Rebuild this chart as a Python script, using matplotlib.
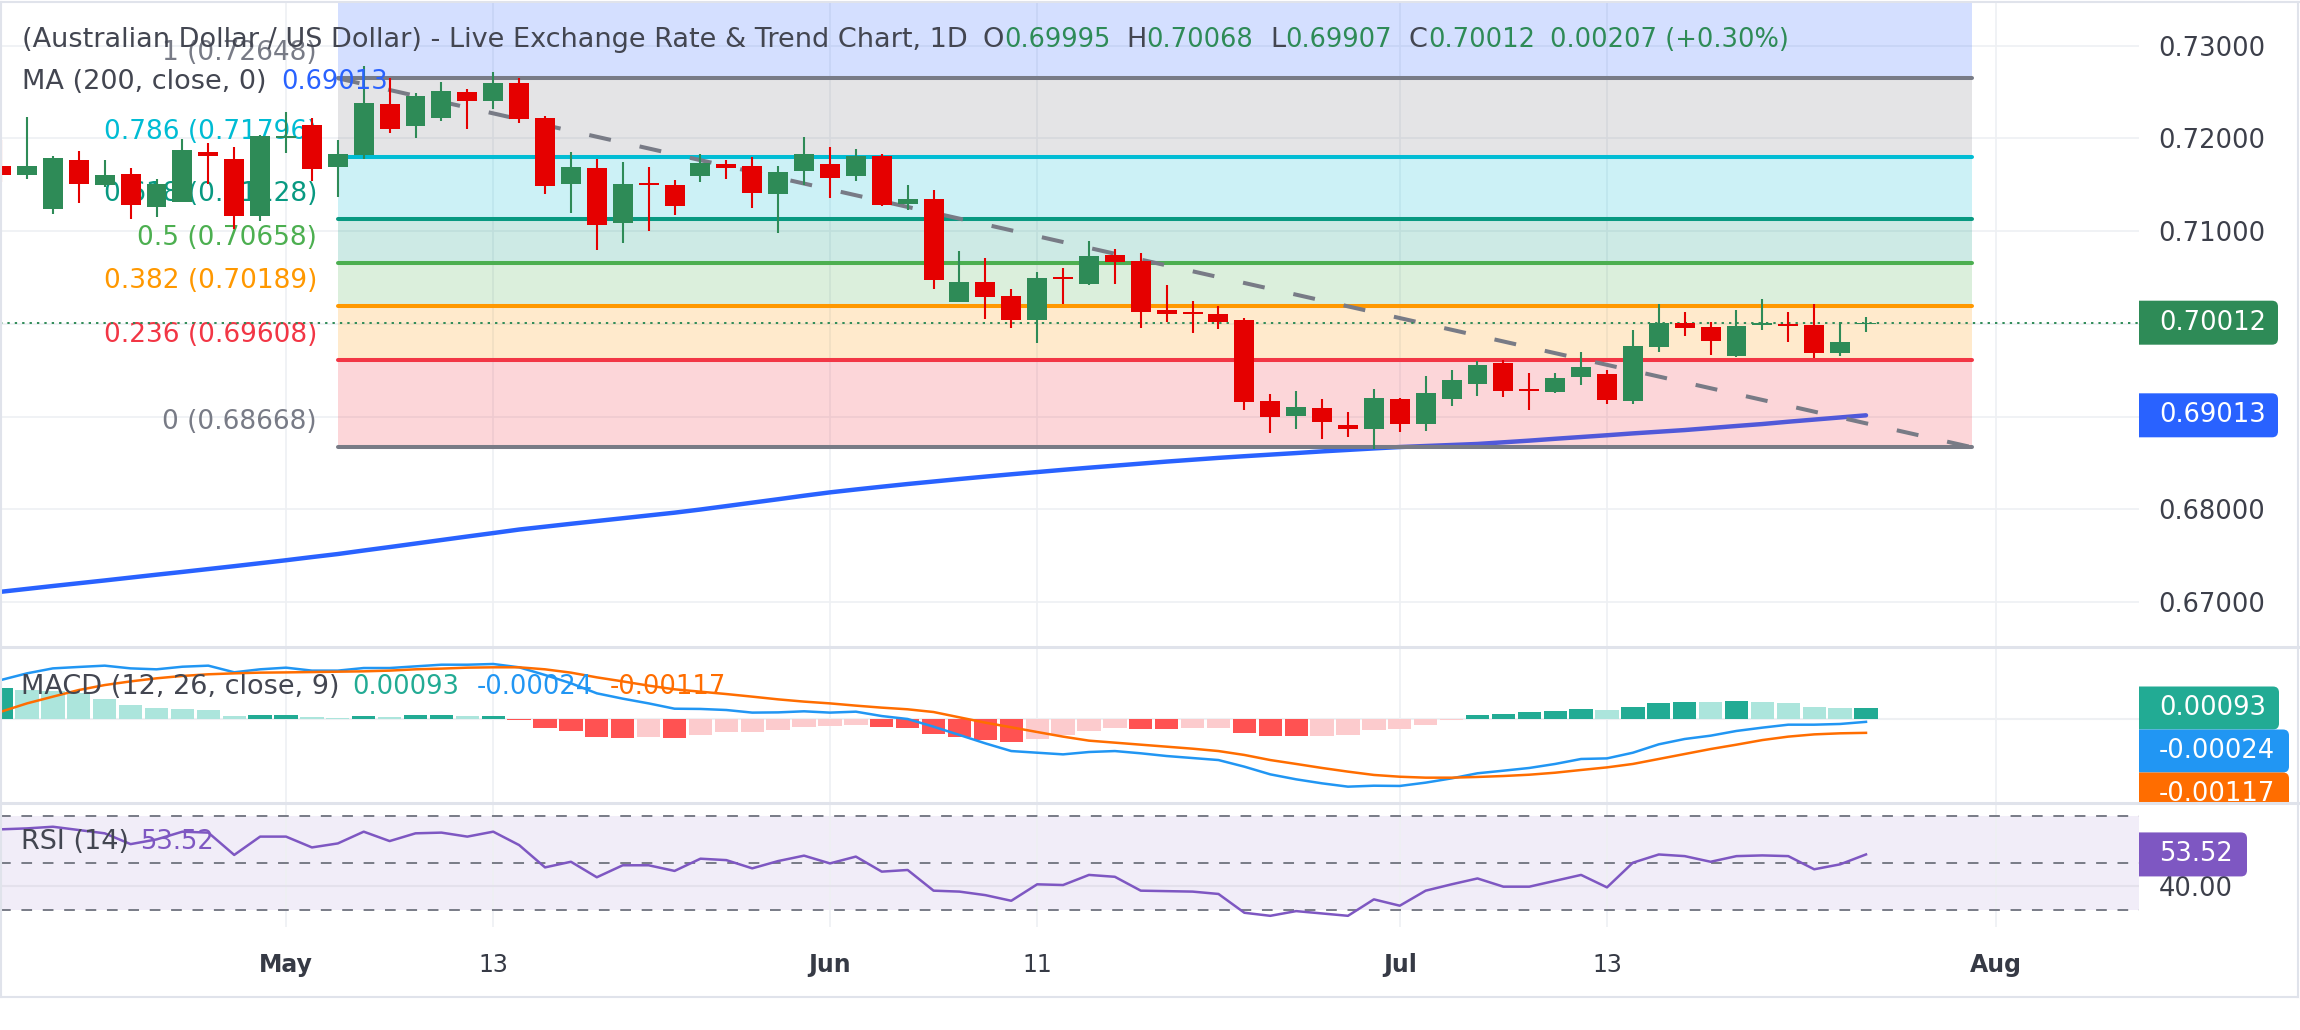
import matplotlib
matplotlib.use('Agg')
import matplotlib.pyplot as plt
import matplotlib.patches as patches
from matplotlib.lines import Line2D
from matplotlib.transforms import IdentityTransform, Bbox, blended_transform_factory

plt.rcParams['font.family'] = ['DejaVu Sans']

# ---- data (daily bars, Apr 16 .. Jul 27) ----
opens = [0.71702, 0.71609, 0.71242, 0.71767, 0.71501, 0.71616, 0.71264, 0.71318, 0.71850, 0.71778,
         0.71167, 0.72001, 0.72145, 0.71695, 0.71821, 0.72371, 0.72134, 0.72224, 0.72501, 0.72407,
         0.72601, 0.72220, 0.71508, 0.71681, 0.71091, 0.71519, 0.71498, 0.71598, 0.71724, 0.71702,
         0.71400, 0.71649, 0.71724, 0.71595, 0.71810, 0.71296, 0.71347, 0.70236, 0.70451, 0.70300,
         0.70041, 0.70505, 0.70430, 0.70742, 0.70678, 0.70149, 0.70128, 0.70106, 0.70041, 0.69168,
         0.69006, 0.69092, 0.68909, 0.68866, 0.69189, 0.68920, 0.69189, 0.69351, 0.69578, 0.69297,
         0.69265, 0.69427, 0.69459, 0.69168, 0.69750, 0.70009, 0.69966, 0.69653, 0.69991, 0.69998,
         0.69987, 0.69685, 0.69995]
highs = [0.71983, 0.72227, 0.71810, 0.71864, 0.71767, 0.71681, 0.71559, 0.71997, 0.71947, 0.71904,
         0.72033, 0.72285, 0.72217, 0.71983, 0.72781, 0.72648, 0.72493, 0.72608, 0.72529, 0.72720,
         0.72655, 0.72242, 0.71853, 0.71778, 0.71746, 0.71692, 0.71551, 0.71832, 0.71767, 0.71800,
         0.71702, 0.72015, 0.71907, 0.71886, 0.71832, 0.71498, 0.71444, 0.70786, 0.70710, 0.70376,
         0.70559, 0.70602, 0.70893, 0.70807, 0.70764, 0.70419, 0.70246, 0.70192, 0.70063, 0.69243,
         0.69276, 0.69189, 0.69049, 0.69297, 0.69200, 0.69437, 0.69502, 0.69599, 0.69610, 0.69470,
         0.69470, 0.69696, 0.69502, 0.69934, 0.70214, 0.70128, 0.70020, 0.70149, 0.70268, 0.70128,
         0.70214, 0.70020, 0.70068]
lows = [0.71533, 0.71559, 0.71181, 0.71307, 0.71480, 0.71127, 0.71156, 0.71311, 0.71508, 0.71027,
        0.71113, 0.71846, 0.71544, 0.71372, 0.71782, 0.72062, 0.72008, 0.72191, 0.72101, 0.72317,
        0.72166, 0.71400, 0.71195, 0.70796, 0.70872, 0.71001, 0.71174, 0.71530, 0.71562, 0.71249,
        0.70980, 0.71498, 0.71357, 0.71541, 0.71271, 0.71228, 0.70376, 0.70236, 0.70052, 0.69955,
        0.69793, 0.70214, 0.70419, 0.70430, 0.69955, 0.70020, 0.69901, 0.69944, 0.69071, 0.68823,
        0.68866, 0.68758, 0.68779, 0.68650, 0.68833, 0.68844, 0.69114, 0.69222, 0.69211, 0.69071,
        0.69254, 0.69340, 0.69135, 0.69135, 0.69696, 0.69869, 0.69664, 0.69642, 0.69934, 0.69804,
        0.69631, 0.69653, 0.69907]
closes = [0.71609, 0.71702, 0.71785, 0.71512, 0.71605, 0.71285, 0.71508, 0.71875, 0.71814, 0.71167,
          0.72026, 0.72022, 0.71674, 0.71832, 0.72382, 0.72098, 0.72457, 0.72511, 0.72407, 0.72598,
          0.72209, 0.71490, 0.71692, 0.71070, 0.71508, 0.71501, 0.71275, 0.71735, 0.71681, 0.71411,
          0.71638, 0.71832, 0.71577, 0.71810, 0.71285, 0.71347, 0.70476, 0.70451, 0.70289, 0.70041,
          0.70494, 0.70487, 0.70732, 0.70671, 0.70128, 0.70106, 0.70110, 0.70020, 0.69157, 0.68995,
          0.69103, 0.68941, 0.68866, 0.69200, 0.68920, 0.69254, 0.69394, 0.69556, 0.69276, 0.69276,
          0.69416, 0.69534, 0.69178, 0.69761, 0.70009, 0.69959, 0.69815, 0.69977, 0.70013, 0.69980,
          0.69685, 0.69805, 0.70012]
ma200 = [0.67110, 0.67141, 0.67172, 0.67202, 0.67232, 0.67263, 0.67294, 0.67324, 0.67355, 0.67386,
         0.67418, 0.67450, 0.67484, 0.67517, 0.67555, 0.67592, 0.67630, 0.67668, 0.67706, 0.67743,
         0.67781, 0.67812, 0.67843, 0.67873, 0.67903, 0.67933, 0.67963, 0.67997, 0.68034, 0.68071,
         0.68108, 0.68146, 0.68182, 0.68213, 0.68243, 0.68272, 0.68299, 0.68326, 0.68352, 0.68377,
         0.68401, 0.68425, 0.68448, 0.68470, 0.68492, 0.68514, 0.68534, 0.68554, 0.68572, 0.68589,
         0.68606, 0.68624, 0.68640, 0.68656, 0.68671, 0.68682, 0.68693, 0.68704, 0.68722, 0.68740,
         0.68760, 0.68779, 0.68798, 0.68818, 0.68836, 0.68854, 0.68876, 0.68898, 0.68919, 0.68944,
         0.68967, 0.68990, 0.69013]
macd_line = [0.00330, 0.00386, 0.00428, 0.00440, 0.00451, 0.00428, 0.00420, 0.00442, 0.00451, 0.00395,
             0.00420, 0.00434, 0.00409, 0.00409, 0.00431, 0.00431, 0.00445, 0.00459, 0.00459, 0.00465,
             0.00437, 0.00372, 0.00302, 0.00217, 0.00172, 0.00132, 0.00087, 0.00085, 0.00076, 0.00054,
             0.00056, 0.00065, 0.00054, 0.00062, 0.00025, 0.00000, -0.00065, -0.00135, -0.00206, -0.00271,
             -0.00285, -0.00299, -0.00279, -0.00271, -0.00290, -0.00313, -0.00330, -0.00347, -0.00403, -0.00468,
             -0.00510, -0.00544, -0.00572, -0.00564, -0.00566, -0.00538, -0.00502, -0.00459, -0.00437, -0.00414,
             -0.00380, -0.00338, -0.00333, -0.00285, -0.00214, -0.00169, -0.00141, -0.00101, -0.00073, -0.00048,
             -0.00048, -0.00042, -0.00024]
signal_line = [0.00062, 0.00132, 0.00189, 0.00245, 0.00287, 0.00318, 0.00344, 0.00364, 0.00378, 0.00386,
               0.00392, 0.00394, 0.00397, 0.00400, 0.00403, 0.00409, 0.00420, 0.00426, 0.00434, 0.00437,
               0.00437, 0.00420, 0.00392, 0.00352, 0.00318, 0.00282, 0.00251, 0.00231, 0.00211, 0.00189,
               0.00166, 0.00147, 0.00132, 0.00113, 0.00096, 0.00082, 0.00059, 0.00014, -0.00031, -0.00070,
               -0.00110, -0.00149, -0.00183, -0.00200, -0.00217, -0.00234, -0.00251, -0.00271, -0.00304, -0.00347,
               -0.00380, -0.00414, -0.00445, -0.00473, -0.00488, -0.00496, -0.00496, -0.00490, -0.00482, -0.00471,
               -0.00454, -0.00431, -0.00409, -0.00380, -0.00338, -0.00296, -0.00254, -0.00217, -0.00178, -0.00149,
               -0.00130, -0.00121, -0.00117]
macd_hist = [0.00259, 0.00245, 0.00240, 0.00217, 0.00166, 0.00118, 0.00090, 0.00087, 0.00076, 0.00025,
             0.00031, 0.00034, 0.00014, 0.00008, 0.00025, 0.00017, 0.00031, 0.00033, 0.00025, 0.00028,
             -0.00008, -0.00073, -0.00099, -0.00149, -0.00158, -0.00149, -0.00158, -0.00135, -0.00110, -0.00108,
             -0.00093, -0.00065, -0.00063, -0.00051, -0.00070, -0.00076, -0.00127, -0.00149, -0.00175, -0.00192,
             -0.00169, -0.00135, -0.00099, -0.00073, -0.00082, -0.00083, -0.00080, -0.00073, -0.00116, -0.00141,
             -0.00144, -0.00141, -0.00138, -0.00093, -0.00087, -0.00048, -0.00008, 0.00034, 0.00042, 0.00062,
             0.00070, 0.00085, 0.00076, 0.00104, 0.00138, 0.00147, 0.00144, 0.00148, 0.00144, 0.00135,
             0.00101, 0.00091, 0.00093]
rsi = [64.2, 64.6, 65.3, 63.9, 62.5, 57.9, 59.9, 63.2, 62.8, 53.3,
       61.1, 61.1, 56.5, 58.2, 63.2, 59.2, 62.5, 62.8, 61.1, 63.2,
       57.5, 48.0, 50.4, 43.8, 48.9, 48.9, 46.5, 51.7, 51.1, 47.6,
       50.7, 53.0, 49.7, 52.6, 46.2, 46.9, 38.1, 37.7, 36.2, 33.8,
       40.8, 40.5, 44.8, 44.0, 38.1, 37.9, 37.7, 36.7, 28.7, 27.4,
       29.4, 28.4, 27.4, 34.4, 31.7, 38.1, 40.8, 43.3, 39.8, 39.8,
       42.3, 44.8, 39.5, 50.0, 53.5, 52.8, 50.4, 52.8, 53.1, 52.8,
       47.2, 49.3, 53.52]

tick_idx = [11, 19, 32, 40, 54, 62, 77]
tick_lbl = ['May', '13', 'Jun', '11', 'Jul', '13', 'Aug']
price_ticks = [0.67, 0.68, 0.69, 0.70, 0.71, 0.72, 0.73]
fib_ratios = [0, 0.236, 0.382, 0.5, 0.618, 0.786, 1]
fib_prices = [0.68668, 0.69608, 0.70189, 0.70658, 0.71128, 0.71796, 0.72648]
fib_colors = ['#787b86', '#f23645', '#ff9800', '#4caf50', '#089981', '#00bcd4', '#787b86']
fib_top_fill = 0.75108  # 1.618 level, off screen

# ---- styles ----
W, H = 2300, 1030
UP, DOWN = '#2e8b57', '#e50000'
TXT = '#434651'
GRID = '#eef0f3'
FS_AX = 18.5     # price scale / value boxes
FS_LEG = 19.5    # legend titles
FS_VAL = 18.5    # legend values
FS_FIB = 19
FS_TIME = 17

fig = plt.figure(figsize=(W / 100, H / 100), dpi=100, facecolor='white')


def fr(x0, y0, x1, y1):
    return [x0 / W, 1 - y1 / H, (x1 - x0) / W, (y1 - y0) / H]


PLOT_R = 2139
ax = fig.add_axes(fr(0, 3, PLOT_R, 646))
mx = fig.add_axes(fr(0, 649, PLOT_R, 802))
rx = fig.add_axes(fr(0, 805, PLOT_R, 927))
XL = (-0.0425, 82.54)
ax.set_ylim(0.66525, 0.73460)
mx.set_ylim(-0.007017, 0.005918)
rx.set_ylim(22.64, 74.55)
for a in (ax, mx, rx):
    a.set_xlim(*XL)
    a.set_facecolor('none')
    for s in a.spines.values():
        s.set_visible(False)
    a.set_xticks([])
    for k in tick_idx:
        a.axvline(k, color=GRID, lw=1.2, zorder=0.2)
mx.set_yticks([])

idx = list(range(len(closes)))

# ---- main price panel ----
for p in price_ticks:
    ax.axhline(p, color=GRID, lw=1.2, zorder=0.2)
ax.yaxis.tick_right()
ax.set_yticks(price_ticks)
ax.set_yticklabels([f'{p:.5f}' for p in price_ticks])
ax.tick_params(axis='y', length=0, pad=14, labelsize=FS_AX, labelcolor='#3c3f4a')

ax.plot(idx, ma200, color='#2962ff', lw=3.2, zorder=1.5, solid_capstyle='round')

F0, F1 = 13, 76.1
bands = fib_prices + [fib_top_fill]
band_cols = fib_colors[1:] + ['#2962ff']
for i in range(len(fib_prices)):
    ax.fill_between([F0, F1], bands[i], bands[i + 1], color=band_cols[i], alpha=0.2, lw=0, zorder=2)
for r, p, c in zip(fib_ratios, fib_prices, fib_colors):
    ax.plot([F0, F1], [p, p], color=c, lw=2.9, solid_capstyle='round', zorder=3)
    ax.annotate(f'{r:g} ({p:.5f})', xy=(F0, p), xytext=(-15, 18), textcoords='offset points',
                ha='right', va='center', color=c, fontsize=FS_FIB, zorder=2.5)
ax.plot([F0, F1], [fib_prices[-1], fib_prices[0]], color='#787b86', lw=2.9,
        dashes=(5.5, 7.3), zorder=3.5)

ax.axhline(closes[-1], color=UP, lw=1.4, ls=(0, (1.2, 2.6)), zorder=3.6)

for i in idx:
    o, h, l, c = opens[i], highs[i], lows[i], closes[i]
    col = UP if c >= o else DOWN
    ax.vlines(i, l, h, color=col, lw=1.5, zorder=5)
    ax.bar(i, max(abs(c - o), 0.00012), bottom=min(o, c), width=0.77, color=col, lw=0, zorder=5.1)

# ---- MACD panel ----
mx.axhline(0, color=GRID, lw=1.5, zorder=0.2)
hcols = []
for i, v in enumerate(macd_hist):
    prev = macd_hist[i - 1] if i else v - 1
    if v >= 0:
        hcols.append('#22ab94' if v > prev else '#ace5dc')
    else:
        hcols.append('#fccbcd' if v > prev else '#ff5252')
mx.bar(idx, macd_hist, width=0.9, color=hcols, lw=0, zorder=1)
mx.plot(idx, macd_line, color='#2196f3', lw=1.8, zorder=2)
mx.plot(idx, signal_line, color='#ff6d00', lw=1.8, zorder=2)

# ---- RSI panel ----
rx.axhspan(30, 70, color='#7e57c2', alpha=0.1, lw=0, zorder=0.1)
rx.axhline(40, color='#e4e1ec', lw=1.5, zorder=0.3)
for lv in (70, 50, 30):
    rx.axhline(lv, color='#787b86', lw=1.4, dashes=(5.5, 5.5), zorder=0.5)
rx.plot(idx, rsi, color='#7e57c2', lw=1.8, zorder=2)
rx.yaxis.tick_right()
rx.set_yticks([40])
rx.set_yticklabels(['40.00'])
rx.tick_params(axis='y', length=0, pad=14, labelsize=FS_AX, labelcolor='#3c3f4a')

tr = blended_transform_factory(rx.transData, rx.transAxes)
for k, lbl in zip(tick_idx, tick_lbl):
    rx.text(k, -0.31, lbl, transform=tr, ha='center', va='center', fontsize=FS_TIME, color='#363a45',
            fontweight='bold' if lbl.isalpha() else 'normal', clip_on=False)

# ---- frame / separators ----
for (x0, y0, x1, y1, lw) in [(0, 2, W, 2, 1.5), (1, 2, 1, 997, 1.5), (2298, 2, 2298, 997, 1.5),
                              (0, 997, 2298, 997, 1.5), (0, 647, 2298, 647, 2.2), (0, 803, 2298, 803, 2.2)]:
    fig.add_artist(Line2D([x0 / W, x1 / W], [1 - y0 / H, 1 - y1 / H], color='#e0e3eb', lw=lw))

# ---- right-side value boxes ----
def clip_for(y0, y1):
    return Bbox.from_extents(PLOT_R, H - y1, W, H - y0)


def value_box(yc, x1, text, color, clip, h=44):
    box = patches.FancyBboxPatch((PLOT_R - 10, yc - h / 2), x1 - PLOT_R + 10, h,
                                 boxstyle='round,pad=0,rounding_size=6', fc=color, ec='none',
                                 transform=IdentityTransform())
    box.set_clip_box(clip)
    fig.add_artist(box)
    t = fig.text(2159 / W, yc / H, text, color='white', fontsize=FS_AX, ha='left', va='center')
    t.set_clip_box(clip)
    t.set_clip_on(True)


main_clip = clip_for(3, 646)
value_box(ax.transData.transform((0, closes[-1]))[1], 2278, f'{closes[-1]:.5f}', UP, main_clip)
value_box(ax.transData.transform((0, ma200[-1]))[1], 2278, f'{ma200[-1]:.5f}', '#2962ff', main_clip)

macd_clip = clip_for(647, 803)
prev_bottom = None
for v, col, x1 in [(macd_hist[-1], '#22ab94', 2279), (macd_line[-1], '#2196f3', 2289),
                   (signal_line[-1], '#ff6d00', 2289)]:
    yc = mx.transData.transform((0, v))[1]
    if prev_bottom is not None:
        yc = min(yc, prev_bottom - 21.5)
    value_box(yc, x1, f'{v:.5f}', col, macd_clip, h=43)
    prev_bottom = yc - 21.5

value_box(rx.transData.transform((0, rsi[-1]))[1], 2247, f'{rsi[-1]:.2f}', '#7e57c2', clip_for(803, 927))

# ---- legends ----
renderer = fig.canvas.get_renderer()


def text_group(x, y, pieces):
    # pieces drawn back to back starting at pixel x
    for s, c, size in pieces:
        t = fig.text(x / W, 1 - y / H, s, color=c, fontsize=size, ha='left', va='center')
        x += t.get_window_extent(renderer=renderer).width


chg = closes[-1] - closes[-2]
pct = (closes[-1] / closes[-2] - 1) * 100
text_group(22, 40, [('(Australian Dollar / US Dollar) - Live Exchange Rate & Trend Chart, 1D', TXT, FS_LEG)])
for gx, letter, val in [(983, 'O', opens[-1]), (1126, 'H', highs[-1]), (1270, 'L', lows[-1]),
                        (1409, 'C', closes[-1])]:
    text_group(gx, 40, [(letter, TXT, FS_LEG), (f'{val:.5f}', UP, FS_VAL)])
text_group(1550, 40, [(f'{chg:.5f} (+{pct:.2f}%)', UP, FS_VAL)])

text_group(22, 82, [('MA (200, close, 0)', TXT, FS_LEG)])
text_group(281, 82, [(f'{ma200[-1]:.5f}', '#2962ff', FS_VAL)])

text_group(21, 687, [('MACD (12, 26, close, 9)', TXT, FS_LEG)])
for gx, val, col in [(352, macd_hist[-1], '#22ab94'), (477, macd_line[-1], '#2196f3'),
                     (610, signal_line[-1], '#ff6d00')]:
    text_group(gx, 687, [(f'{val:.5f}', col, FS_VAL)])

text_group(21, 842, [('RSI (14)', TXT, FS_LEG)])
text_group(140, 842, [(f'{rsi[-1]:.2f}', '#7e57c2', FS_VAL)])

fig.savefig('out.png', dpi=100, facecolor='white')
